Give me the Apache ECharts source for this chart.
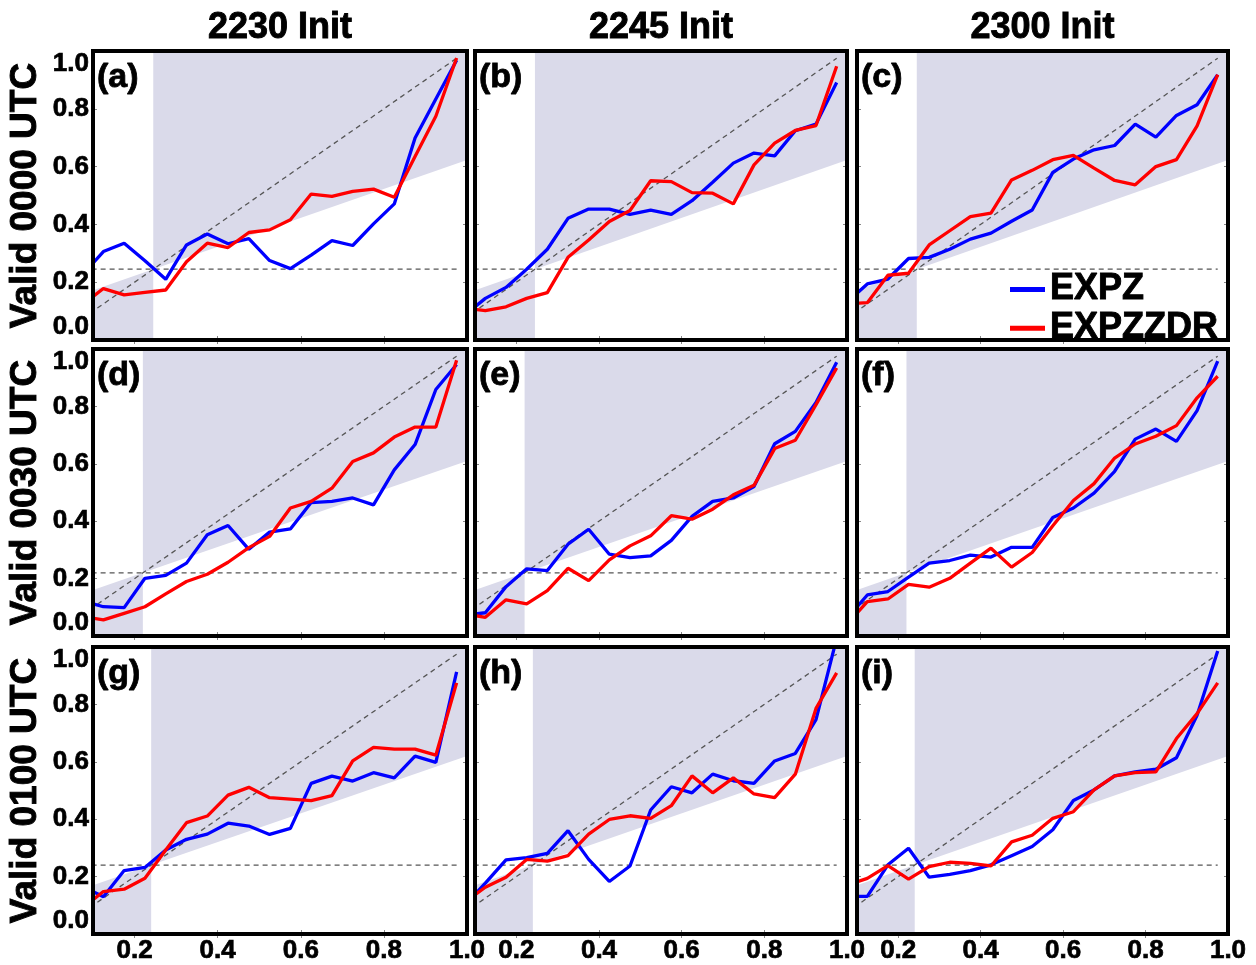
<!DOCTYPE html>
<html>
<head>
<meta charset="utf-8">
<script src="https://cdn.jsdelivr.net/npm/echarts@6/dist/echarts.min.js"></script>
<style>
  html, body { margin: 0; padding: 0; background: #fff; }
  #chart { width: 1256px; height: 965px; }
</style>
</head>
<body>
<div id="chart"></div>
<script>
// forecast probability bin centres (first one lies left of the plotted range)
var binCenters = [0.075, 0.125, 0.175, 0.225, 0.275, 0.325, 0.375, 0.425, 0.475, 0.525,
                  0.575, 0.625, 0.675, 0.725, 0.775, 0.825, 0.875, 0.925, 0.975];

var initTimes = ['2230 Init', '2245 Init', '2300 Init'];
var validTimes = ['Valid 0000 UTC', 'Valid 0030 UTC', 'Valid 0100 UTC'];
var panelTags = ['(a)', '(b)', '(c)', '(d)', '(e)', '(f)', '(g)', '(h)', '(i)'];
// sample climatology for each valid time (row)
var climatology = [0.245, 0.22, 0.24];
var xTickValues = [0.2, 0.4, 0.6, 0.8, 1.0];

// observed frequency, EXPZ
var expzA = [0.226, 0.306, 0.335, 0.274, 0.21, 0.329, 0.367, 0.333, 0.351, 0.275, 0.247, 0.294, 0.344, 0.327, 0.402, 0.471, 0.699, 0.834, 0.968];
var expzB = [0.086, 0.144, 0.182, 0.245, 0.314, 0.421, 0.453, 0.453, 0.435, 0.449, 0.435, 0.482, 0.546, 0.612, 0.647, 0.637, 0.724, 0.747, 0.891];
var expzC = [0.13, 0.194, 0.211, 0.282, 0.286, 0.314, 0.349, 0.37, 0.411, 0.45, 0.58, 0.626, 0.658, 0.673, 0.747, 0.702, 0.777, 0.814, 0.918];
var expzD = [0.122, 0.102, 0.099, 0.201, 0.211, 0.254, 0.353, 0.385, 0.302, 0.362, 0.373, 0.465, 0.469, 0.481, 0.457, 0.579, 0.667, 0.859, 0.946];
var expzE = [0.073, 0.081, 0.172, 0.234, 0.228, 0.32, 0.372, 0.285, 0.273, 0.279, 0.333, 0.417, 0.469, 0.481, 0.521, 0.67, 0.713, 0.814, 0.954];
var expzF = [0.06, 0.143, 0.155, 0.205, 0.254, 0.263, 0.282, 0.275, 0.309, 0.309, 0.413, 0.446, 0.498, 0.574, 0.686, 0.721, 0.678, 0.785, 0.958];
var expzG = [0.166, 0.13, 0.221, 0.232, 0.293, 0.33, 0.348, 0.386, 0.376, 0.347, 0.368, 0.525, 0.55, 0.533, 0.562, 0.544, 0.62, 0.598, 0.913];
var expzH = [0.10, 0.177, 0.258, 0.266, 0.281, 0.36, 0.26, 0.183, 0.237, 0.432, 0.513, 0.492, 0.557, 0.534, 0.525, 0.603, 0.629, 0.747, 1.03];
var expzI = [0.131, 0.131, 0.241, 0.299, 0.198, 0.208, 0.221, 0.241, 0.273, 0.305, 0.363, 0.465, 0.502, 0.551, 0.565, 0.574, 0.614, 0.762, 0.986];

// observed frequency, EXPZZDR
var expzzdrA = [0.122, 0.178, 0.156, 0.165, 0.173, 0.271, 0.335, 0.32, 0.372, 0.381, 0.416, 0.505, 0.497, 0.514, 0.522, 0.494, 0.635, 0.774, 0.976];
var expzzdrB = [0.11, 0.102, 0.115, 0.144, 0.164, 0.286, 0.346, 0.41, 0.448, 0.551, 0.548, 0.51, 0.508, 0.471, 0.606, 0.681, 0.725, 0.742, 0.947];
var expzzdrC = [0.125, 0.129, 0.224, 0.231, 0.329, 0.378, 0.427, 0.439, 0.554, 0.587, 0.624, 0.639, 0.595, 0.552, 0.537, 0.6, 0.624, 0.741, 0.918];
var expzzdrD = [0.068, 0.056, 0.079, 0.102, 0.147, 0.19, 0.215, 0.257, 0.308, 0.347, 0.446, 0.469, 0.515, 0.608, 0.638, 0.693, 0.728, 0.728, 0.961];
var expzzdrE = [0.077, 0.065, 0.126, 0.112, 0.158, 0.236, 0.193, 0.265, 0.314, 0.349, 0.419, 0.407, 0.442, 0.492, 0.525, 0.653, 0.682, 0.806, 0.934];
var expzzdrF = [0.04, 0.12, 0.129, 0.18, 0.17, 0.201, 0.254, 0.306, 0.24, 0.291, 0.384, 0.472, 0.531, 0.62, 0.669, 0.696, 0.733, 0.83, 0.905];
var expzzdrG = [0.09, 0.148, 0.156, 0.194, 0.293, 0.388, 0.411, 0.484, 0.511, 0.475, 0.47, 0.465, 0.482, 0.603, 0.65, 0.644, 0.644, 0.623, 0.875];
var expzzdrH = [0.11, 0.163, 0.198, 0.26, 0.254, 0.273, 0.348, 0.399, 0.412, 0.403, 0.447, 0.551, 0.492, 0.544, 0.488, 0.475, 0.557, 0.786, 0.91];
var expzzdrI = [0.17, 0.194, 0.238, 0.191, 0.235, 0.25, 0.246, 0.237, 0.321, 0.344, 0.403, 0.426, 0.502, 0.551, 0.562, 0.565, 0.681, 0.768, 0.875];

var expzPanels = [expzA, expzB, expzC, expzD, expzE, expzF, expzG, expzH, expzI];
var expzzdrPanels = [expzzdrA, expzzdrB, expzzdrC, expzzdrD, expzzdrE, expzzdrF, expzzdrG, expzzdrH, expzzdrI];

var FONT = '"Liberation Sans", Arial, sans-serif';
var SHADE = '#dadaea';
var colLeft = [93, 475, 857], colWidth = [374, 372, 371];
var rowTop = [51, 349, 647], rowHeight = [289, 287, 287];

var grids = [], xAxes = [], yAxes = [], series = [], graphics = [];

function fmt(v) { return v.toFixed(1); }

var tickLabelStyle = {
    fontFamily: FONT, fontSize: 26, fontWeight: 'bold', color: '#000',
    textBorderColor: '#000', textBorderWidth: 0.7
};

for (var r = 0; r < 3; r++) {
    for (var c = 0; c < 3; c++) {
        var k = r * 3 + c;
        var clim = climatology[r];
        grids.push({
            left: colLeft[c], top: rowTop[r], width: colWidth[c], height: rowHeight[r],
            show: true, borderColor: '#000', borderWidth: 4, backgroundColor: 'transparent', z: 5
        });

        ['bottom', 'top'].forEach(function (pos) {
            xAxes.push({
                gridIndex: k, type: 'value', position: pos, min: 0.1, max: 1.0,
                axisLine: { show: false }, splitLine: { show: false },
                axisTick: { show: true, inside: true, length: 4, customValues: [0.2, 0.4, 0.6, 0.8],
                            lineStyle: { color: '#888', width: 1 } },
                axisLabel: Object.assign({
                    show: pos === 'bottom' && r === 2, customValues: xTickValues, margin: 4,
                    formatter: fmt
                }, tickLabelStyle)
            });
        });
        ['left', 'right'].forEach(function (pos) {
            yAxes.push({
                gridIndex: k, type: 'value', position: pos, min: 0, max: 1, interval: 0.2,
                axisLine: { show: false }, splitLine: { show: false },
                axisTick: { show: true, inside: true, length: 4, lineStyle: { color: '#888', width: 1 } },
                axisLabel: Object.assign({
                    show: pos === 'left' && c === 0, margin: 4, formatter: fmt,
                    verticalAlignMinLabel: 'bottom', verticalAlignMaxLabel: 'top'
                }, tickLabelStyle)
            });
        });

        var ax = 2 * k;
        // no-resolution side: below the no-skill line left of climatology
        series.push({
            type: 'line', xAxisIndex: ax, yAxisIndex: ax, silent: true, symbol: 'none', z: 1,
            data: [[0, clim / 2], [clim, clim]],
            lineStyle: { width: 0 }, areaStyle: { color: SHADE, opacity: 1, origin: 'start' }
        });
        // skill side: above the no-skill line right of climatology
        series.push({
            type: 'line', xAxisIndex: ax, yAxisIndex: ax, silent: true, symbol: 'none', z: 1,
            data: [[clim, clim], [1, (1 + clim) / 2]],
            lineStyle: { width: 0 }, areaStyle: { color: SHADE, opacity: 1, origin: 'end' }
        });
        var x0 = binCenters[0], x1 = binCenters[binCenters.length - 1];
        series.push({
            type: 'line', xAxisIndex: ax, yAxisIndex: ax, silent: true, symbol: 'none', z: 2,
            data: [[x0, x0], [x1, x1]],
            lineStyle: { color: '#555', width: 1.3, type: [5, 4] }
        });
        series.push({
            type: 'line', xAxisIndex: ax, yAxisIndex: ax, silent: true, symbol: 'none', z: 2,
            data: [[x0, clim], [x1, clim]],
            lineStyle: { color: '#555', width: 1.3, type: [5, 4] }
        });

        series.push({
            name: 'EXPZ', type: 'line', xAxisIndex: ax, yAxisIndex: ax, symbol: 'none', z: 3,
            data: binCenters.map(function (x, i) { return [x, expzPanels[k][i]]; }),
            color: '#0000ff', lineStyle: { width: 3.3, color: '#0000ff' }
        });
        series.push({
            name: 'EXPZZDR', type: 'line', xAxisIndex: ax, yAxisIndex: ax, symbol: 'none', z: 3,
            data: binCenters.map(function (x, i) { return [x, expzzdrPanels[k][i]]; }),
            color: '#ff0000', lineStyle: { width: 3.3, color: '#ff0000' }
        });

        graphics.push({
            type: 'text', x: colLeft[c] + 4, y: rowTop[r] + 27, z: 10,
            style: { text: panelTags[k], font: 'bold 34px ' + FONT, fill: '#000',
                     stroke: '#000', lineWidth: 0.8,
                     textAlign: 'left', textVerticalAlign: 'middle' }
        });
    }
}

for (var i = 0; i < 3; i++) {
    graphics.push({
        type: 'text', x: colLeft[i] + colWidth[i] / 2, y: 28,
        style: { text: initTimes[i], font: 'bold 36px ' + FONT, fill: '#000',
                 stroke: '#000', lineWidth: 0.9,
                 textAlign: 'center', textVerticalAlign: 'middle' }
    });
    graphics.push({
        type: 'text', x: 26, y: rowTop[i] + rowHeight[i] / 2, rotation: Math.PI / 2,
        style: { text: validTimes[i], font: 'bold 37px ' + FONT, fill: '#000',
                 stroke: '#000', lineWidth: 0.9,
                 textAlign: 'center', textVerticalAlign: 'middle' }
    });
}

var option = {
    animation: false,
    backgroundColor: '#fff',
    grid: grids,
    xAxis: xAxes,
    yAxis: yAxes,
    series: series,
    graphic: graphics,
    legend: {
        data: ['EXPZ', 'EXPZZDR'],
        orient: 'vertical', left: 1010, top: 271, padding: 0, itemGap: 2,
        icon: 'rect', itemWidth: 35, itemHeight: 5,
        textStyle: { fontFamily: FONT, fontSize: 36, fontWeight: 'bold', color: '#000', lineHeight: 30,
                     textBorderColor: '#000', textBorderWidth: 0.9 }
    }
};

var myChart = echarts.init(document.getElementById('chart'));
myChart.setOption(option);
</script>
</body>
</html>
